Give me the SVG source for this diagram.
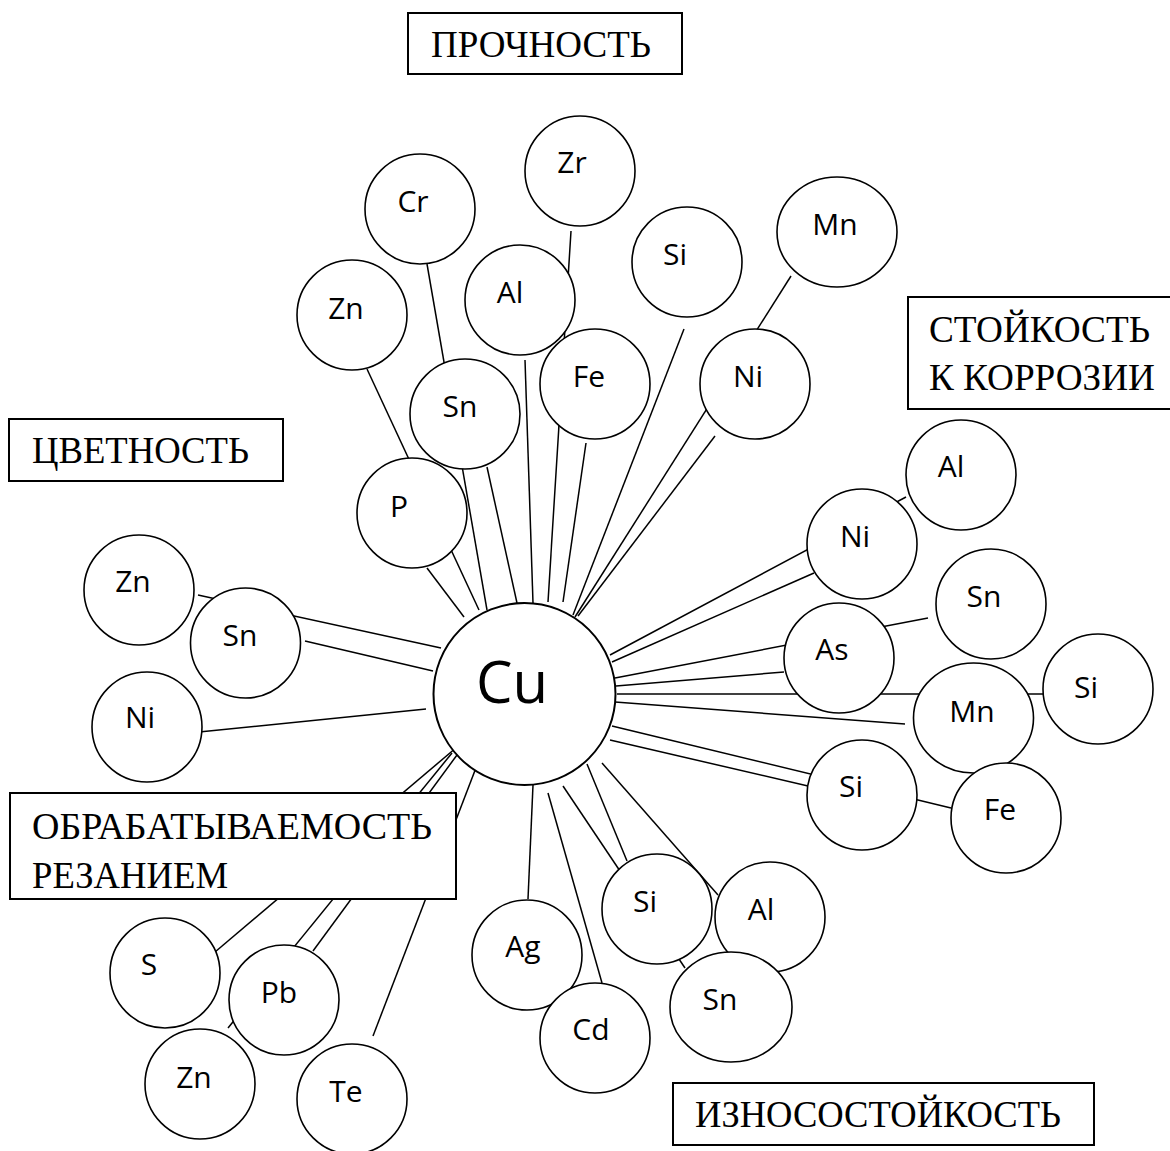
<svg xmlns="http://www.w3.org/2000/svg" width="1170" height="1151" viewBox="0 0 1170 1151">
<style>
.bg{fill:#fff}
.c{fill:#fff;stroke:#000;stroke-width:1.6}
.cu{fill:#fff;stroke:#000;stroke-width:2}
.e{font-family:"Open Sans","Liberation Sans",sans-serif;font-size:30px;fill:#000;text-anchor:middle}
.cut{font-family:"Open Sans","Liberation Sans",sans-serif;font-size:58px;fill:#000;text-anchor:middle}
.box{fill:#fff;stroke:#000;stroke-width:2}
.lbl{font-family:"Liberation Serif","Times New Roman",serif;font-size:37px;fill:#000}
#connectors line{stroke:#000;stroke-width:1.5}
</style>
<rect class="bg" x="0" y="0" width="1170" height="1151"/>
<g id="connectors">
<line x1="367" y1="369" x2="479" y2="610"/>
<line x1="427" y1="568" x2="464" y2="617"/>
<line x1="427" y1="264" x2="487" y2="610"/>
<line x1="487" y1="467" x2="517" y2="603"/>
<line x1="525" y1="360" x2="533" y2="603"/>
<line x1="571" y1="231" x2="548" y2="602"/>
<line x1="586" y1="443" x2="563" y2="602"/>
<line x1="684" y1="329" x2="573" y2="615"/>
<line x1="791" y1="276" x2="575" y2="617"/>
<line x1="715" y1="436" x2="578" y2="616"/>
<line x1="906" y1="497" x2="610" y2="655"/>
<line x1="814" y1="573" x2="612" y2="662"/>
<line x1="928" y1="618" x2="615" y2="678"/>
<line x1="784" y1="672" x2="616" y2="686"/>
<line x1="617" y1="694" x2="1043" y2="694"/>
<line x1="615" y1="702" x2="905" y2="724"/>
<line x1="951" y1="808" x2="612" y2="726"/>
<line x1="610" y1="740" x2="808" y2="786"/>
<line x1="533" y1="785" x2="528" y2="899"/>
<line x1="548" y1="793" x2="602" y2="983"/>
<line x1="563" y1="786" x2="685" y2="968"/>
<line x1="587" y1="764" x2="627" y2="861"/>
<line x1="602" y1="763" x2="718" y2="895"/>
<line x1="198" y1="595" x2="441" y2="648"/>
<line x1="305" y1="641" x2="433" y2="671"/>
<line x1="199" y1="732" x2="426" y2="709"/>
<line x1="457" y1="747" x2="215" y2="952"/>
<line x1="452" y1="753" x2="228" y2="1028"/>
<line x1="457" y1="755" x2="313" y2="951"/>
<line x1="479" y1="760" x2="373" y2="1036"/>
</g>
<g id="label-prochnost"><rect class="box" x="408" y="13" width="274" height="61"/><text class="lbl" x="431" y="57" textLength="220" lengthAdjust="spacingAndGlyphs">ПРОЧНОСТЬ</text></g>
<g id="label-korroziya"><rect class="box" x="908" y="297" width="275" height="112"/><text class="lbl" x="929" y="342" textLength="221" lengthAdjust="spacingAndGlyphs">СТОЙКОСТЬ</text><text class="lbl" x="929" y="390" textLength="226" lengthAdjust="spacingAndGlyphs">К КОРРОЗИИ</text></g>
<g id="label-tsvetnost"><rect class="box" x="9" y="419" width="274" height="62"/><text class="lbl" x="32" y="463" textLength="217" lengthAdjust="spacingAndGlyphs">ЦВЕТНОСТЬ</text></g>
<g id="label-obrabat"><rect class="box" x="10" y="793" width="446" height="106"/><text class="lbl" x="32" y="839" textLength="400" lengthAdjust="spacingAndGlyphs">ОБРАБАТЫВАЕМОСТЬ</text><text class="lbl" x="32" y="888" textLength="196" lengthAdjust="spacingAndGlyphs">РЕЗАНИЕМ</text></g>
<g id="label-iznos"><rect class="box" x="673" y="1083" width="421" height="62"/><text class="lbl" x="695" y="1127" textLength="366" lengthAdjust="spacingAndGlyphs">ИЗНОСОСТОЙКОСТЬ</text></g>
<g id="n-cu"><circle class="cu" cx="524.5" cy="694" r="91"/><text class="cut" x="512" y="703">Cu</text></g>
<g id="n-zr"><circle class="c" cx="580" cy="171" r="55"/><text class="e" x="572" y="173">Zr</text></g>
<g id="n-cr"><circle class="c" cx="420" cy="209" r="55"/><text class="e" x="413" y="212">Cr</text></g>
<g id="n-zn1"><circle class="c" cx="352" cy="315" r="55"/><text class="e" x="346" y="319">Zn</text></g>
<g id="n-al1"><circle class="c" cx="520" cy="300" r="55"/><text class="e" x="510" y="303">Al</text></g>
<g id="n-si1"><circle class="c" cx="687" cy="262" r="55"/><text class="e" x="675" y="265">Si</text></g>
<g id="n-mn1"><ellipse class="c" cx="837" cy="232" rx="60" ry="55"/><text class="e" x="835" y="235">Mn</text></g>
<g id="n-fe1"><circle class="c" cx="595" cy="384" r="55"/><text class="e" x="589" y="387">Fe</text></g>
<g id="n-ni1"><circle class="c" cx="755" cy="384" r="55"/><text class="e" x="748" y="387">Ni</text></g>
<g id="n-sn1"><circle class="c" cx="465" cy="414" r="55"/><text class="e" x="460" y="417">Sn</text></g>
<g id="n-p"><circle class="c" cx="412" cy="513" r="55"/><text class="e" x="399" y="517">P</text></g>
<g id="n-al2"><circle class="c" cx="961" cy="475" r="55"/><text class="e" x="951" y="477">Al</text></g>
<g id="n-ni2"><circle class="c" cx="862" cy="544" r="55"/><text class="e" x="855" y="547">Ni</text></g>
<g id="n-sn2"><circle class="c" cx="991" cy="604" r="55"/><text class="e" x="984" y="607">Sn</text></g>
<g id="n-as"><circle class="c" cx="839" cy="658" r="55"/><text class="e" x="832" y="660">As</text></g>
<g id="n-mn2"><ellipse class="c" cx="973.5" cy="718" rx="60" ry="55"/><text class="e" x="972" y="722">Mn</text></g>
<g id="n-si2"><circle class="c" cx="1098" cy="689" r="55"/><text class="e" x="1086" y="698">Si</text></g>
<g id="n-si3"><circle class="c" cx="862" cy="795" r="55"/><text class="e" x="851" y="797">Si</text></g>
<g id="n-fe2"><circle class="c" cx="1006" cy="818" r="55"/><text class="e" x="1000" y="820">Fe</text></g>
<g id="n-ag"><circle class="c" cx="527" cy="955" r="55"/><text class="e" x="523" y="957">Ag</text></g>
<g id="n-cd"><circle class="c" cx="595" cy="1038" r="55"/><text class="e" x="591" y="1040">Cd</text></g>
<g id="n-si4"><circle class="c" cx="657" cy="909" r="55"/><text class="e" x="645" y="912">Si</text></g>
<g id="n-al3"><circle class="c" cx="770" cy="917" r="55"/><text class="e" x="761" y="920">Al</text></g>
<g id="n-sn3"><ellipse class="c" cx="731" cy="1007" rx="61" ry="55"/><text class="e" x="720" y="1010">Sn</text></g>
<g id="n-zn2"><circle class="c" cx="139" cy="590" r="55"/><text class="e" x="133" y="592">Zn</text></g>
<g id="n-sn4"><circle class="c" cx="245.5" cy="643" r="55"/><text class="e" x="240" y="646">Sn</text></g>
<g id="n-ni3"><circle class="c" cx="147" cy="727" r="55"/><text class="e" x="140" y="728">Ni</text></g>
<g id="n-s"><circle class="c" cx="165" cy="973" r="55"/><text class="e" x="149" y="975">S</text></g>
<g id="n-pb"><circle class="c" cx="284" cy="1000" r="55"/><text class="e" x="279" y="1003">Pb</text></g>
<g id="n-zn3"><circle class="c" cx="200" cy="1084" r="55"/><text class="e" x="194" y="1088">Zn</text></g>
<g id="n-te"><circle class="c" cx="352" cy="1099" r="55"/><text class="e" x="346" y="1102">Te</text></g>
</svg>
